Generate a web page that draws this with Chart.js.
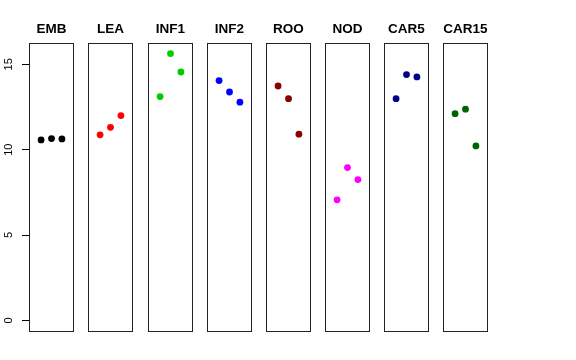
<!DOCTYPE html>
<html>
<head>
<meta charset="utf-8">
<script src="https://cdn.jsdelivr.net/npm/chart.js@4"></script>
<style>
  html, body { margin: 0; padding: 0; background: #ffffff; }
  #wrap { position: relative; width: 576px; height: 360px; background: #ffffff; overflow: hidden; }
  #wrap canvas { position: absolute; top: 0; }
</style>
</head>
<body>
<div id="wrap"></div>
<script>
// ---- data ----
const categories = ['EMB', 'LEA', 'INF1', 'INF2', 'ROO', 'NOD', 'CAR5', 'CAR15'];
const replicate = [1, 2, 3];
const embValues   = [10.57, 10.65, 10.63];
const leaValues   = [10.87, 11.31, 12.00];
const inf1Values  = [13.11, 15.63, 14.55];
const inf2Values  = [14.05, 13.38, 12.78];
const rooValues   = [13.73, 12.99, 10.91];
const nodValues   = [7.06, 8.95, 8.25];
const car5Values  = [12.99, 14.40, 14.26];
const car15Values = [12.11, 12.37, 10.22];
const yTickValues = [0, 5, 10, 15];
const colors = ['#000000', '#FF0000', '#00CD00', '#0000FF', '#8B0000', '#FF00FF', '#00008B', '#006400'];

const seriesValues = [embValues, leaValues, inf1Values, inf2Values, rooValues, nodValues, car5Values, car15Values];

// ---- layout ----
const panelLefts = [29, 88, 148, 207, 266, 325, 384, 443];
const panelWidth = 45;
const padSide = 8;
const yMin = -0.625, yMax = 16.25;
const xMin = -0.16, xMax = 4.16;

const boxPlugin = {
  id: 'panelBox',
  afterDatasetsDraw(chart) {
    const a = chart.chartArea;
    const ctx = chart.ctx;
    ctx.save();
    ctx.strokeStyle = '#222222';
    ctx.lineWidth = 1;
    ctx.strokeRect(Math.round(a.left) + 0.5, Math.round(a.top) + 0.5,
                   Math.round(a.right - a.left) - 1, Math.round(a.bottom - a.top));
    ctx.restore();
  }
};

const wrap = document.getElementById('wrap');
categories.forEach((name, i) => {
  const first = i === 0;
  const canvas = document.createElement('canvas');
  const leftPad = first ? 0 : padSide;
  const cw = first ? panelLefts[0] + panelWidth + padSide : panelWidth + 2 * padSide;
  canvas.width = cw;
  canvas.height = 360;
  canvas.style.width = cw + 'px';
  canvas.style.height = '360px';
  canvas.style.left = (first ? 0 : panelLefts[i] - padSide) + 'px';
  wrap.appendChild(canvas);

  new Chart(canvas, {
    type: 'scatter',
    data: {
      datasets: [{
        label: name,
        data: replicate.map((x, k) => ({ x: x, y: seriesValues[i][k] })),
        backgroundColor: colors[i],
        borderColor: colors[i],
        pointRadius: 3.4,
        pointBorderWidth: 0,
        pointHoverRadius: 3.4
      }]
    },
    options: {
      responsive: false,
      animation: false,
      devicePixelRatio: 1,
      events: [],
      layout: { padding: { left: leftPad, right: padSide, top: 0, bottom: 29 } },
      plugins: {
        legend: { display: false },
        tooltip: { enabled: false },
        title: {
          display: true,
          text: name,
          fullSize: false,
          color: '#000000',
          font: { family: '"Liberation Sans", Arial, Helvetica, sans-serif', size: 13.5, weight: 'bold', lineHeight: 1.2 },
          padding: { top: 21.5, bottom: 5.3 }
        }
      },
      scales: {
        x: {
          type: 'linear',
          min: xMin, max: xMax,
          display: false
        },
        y: {
          type: 'linear',
          position: 'left',
          min: yMin, max: yMax,
          display: first,
          afterBuildTicks(scale) { scale.ticks = yTickValues.map(v => ({ value: v })); },
          afterFit(scale) { if (first) { scale.width = panelLefts[0]; } },
          grid: {
            display: true,
            drawOnChartArea: false,
            drawTicks: true,
            tickLength: 7,
            color: '#000000',
            lineWidth: 1,
            tickColor: '#000000',
            tickWidth: 1
          },
          border: { display: true, color: '#222222', width: 1 },
          ticks: {
            minRotation: 90,
            maxRotation: 90,
            crossAlign: 'center',
            padding: 7,
            color: '#000000',
            font: { family: '"Liberation Sans", Arial, Helvetica, sans-serif', size: 11 },
            callback: (v) => String(v)
          }
        }
      }
    },
    plugins: [boxPlugin]
  });
});
</script>
</body>
</html>
